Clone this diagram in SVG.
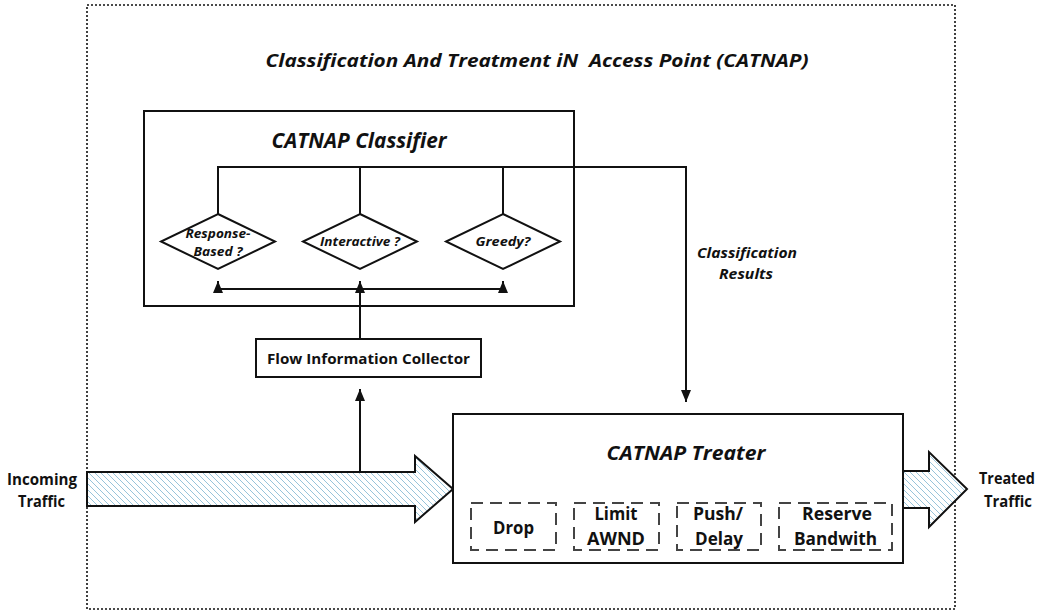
<svg xmlns="http://www.w3.org/2000/svg" width="1042" height="613" viewBox="0 0 1042 613">
<style>
text{font-family:"Open Sans","Liberation Sans",sans-serif;font-weight:bold;fill:#111;text-anchor:middle;dominant-baseline:central}
.it{font-style:italic}
.box{fill:#fff;stroke:#111;stroke-width:2}
.dash{fill:none;stroke:#444;stroke-width:2;stroke-dasharray:12,7}
.ln{fill:none;stroke:#111;stroke-width:2}
.dia{fill:#fff;stroke:#111;stroke-width:2}
.big{fill:url(#hatch);stroke:#111;stroke-width:2;stroke-linejoin:miter}
</style>
<defs>
<pattern id="hatch" patternUnits="userSpaceOnUse" width="6" height="6">
<rect width="6" height="6" fill="#fff"/>
<path d="M0,0 L6,6 M-1,5 L1,7 M5,-1 L7,1" stroke="#8cbdd6" stroke-width="0.9"/>
</pattern>
<marker id="ah" markerUnits="userSpaceOnUse" markerWidth="14" markerHeight="14" refX="12" refY="5" orient="auto">
<path d="M0,0 L12,5 L0,10 Z" fill="#111"/>
</marker>
</defs>
<rect width="1042" height="613" fill="#fff"/>
<g id="outer">
<rect x="87" y="5" width="868" height="604" fill="none" stroke="#111" stroke-width="1.6" stroke-dasharray="2,2"/>
<text class="it" x="537" y="60" font-size="18" textLength="543" lengthAdjust="spacingAndGlyphs" xml:space="preserve">Classification And Treatment iN  Access Point (CATNAP)</text>
</g>
<g id="classifier">
<rect class="box" x="144" y="111" width="430" height="195"/>
<text class="it" x="359" y="140" font-size="21" textLength="175" lengthAdjust="spacingAndGlyphs">CATNAP Classifier</text>
</g>
<g id="incoming-arrow">
<polygon class="big" points="87,472 415,472 415,456 453,489 415,522 415,506 87,506"/>
</g>
<g id="treated-arrow">
<polygon class="big" points="903,471 929,471 929,452 967,489 929,527 929,508 903,508"/>
</g>
<g id="connectors">
<path class="ln" d="M218,214 V167 H686 V402" marker-end="url(#ah)"/>
<path class="ln" d="M360,214 V167"/>
<path class="ln" d="M503,214 V167"/>
<path class="ln" d="M218,289 H503"/>
<path class="ln" d="M218,289 V281" marker-end="url(#ah)"/>
<path class="ln" d="M503,289 V281" marker-end="url(#ah)"/>
<path class="ln" d="M360,339 V281" marker-end="url(#ah)"/>
<path class="ln" d="M360,472 V389" marker-end="url(#ah)"/>
</g>
<g id="d-response">
<polygon class="dia" points="218,214 275,241.5 218,269 161,241.5"/>
<text class="it" x="218" y="233" font-size="12" textLength="65" lengthAdjust="spacingAndGlyphs">Response-</text>
<text class="it" x="218" y="251" font-size="12" textLength="49" lengthAdjust="spacingAndGlyphs">Based ?</text>
</g>
<g id="d-interactive">
<polygon class="dia" points="360,214 417,241.5 360,269 303,241.5"/>
<text class="it" x="360" y="241" font-size="12" textLength="80" lengthAdjust="spacingAndGlyphs">Interactive ?</text>
</g>
<g id="d-greedy">
<polygon class="dia" points="503,214 560,241.5 503,269 446,241.5"/>
<text class="it" x="503" y="241" font-size="12" textLength="55" lengthAdjust="spacingAndGlyphs">Greedy?</text>
</g>
<g id="collector">
<rect class="box" x="256" y="339" width="225" height="38"/>
<text x="368.5" y="358" font-size="14.5" textLength="203" lengthAdjust="spacingAndGlyphs">Flow Information Collector</text>
</g>
<g id="results-label">
<text class="it" x="747" y="252" font-size="14" textLength="100" lengthAdjust="spacingAndGlyphs">Classification</text>
<text class="it" x="746" y="273" font-size="14" textLength="54" lengthAdjust="spacingAndGlyphs">Results</text>
</g>
<g id="treater">
<rect class="box" x="453" y="414" width="450" height="149"/>
<text class="it" x="686" y="452" font-size="20" textLength="159" lengthAdjust="spacingAndGlyphs">CATNAP Treater</text>
</g>
<g id="drop">
<rect class="dash" x="471" y="503" width="85" height="47"/>
<text x="513.5" y="527" font-size="17" textLength="41" lengthAdjust="spacingAndGlyphs">Drop</text>
</g>
<g id="limit">
<rect class="dash" x="574" y="503" width="85" height="47"/>
<text x="616" y="513" font-size="17" textLength="43" lengthAdjust="spacingAndGlyphs">Limit</text>
<text x="616" y="538" font-size="17" textLength="58" lengthAdjust="spacingAndGlyphs">AWND</text>
</g>
<g id="push">
<rect class="dash" x="677" y="503" width="84" height="47"/>
<text x="718" y="513" font-size="17" textLength="50" lengthAdjust="spacingAndGlyphs">Push/</text>
<text x="719" y="538" font-size="17" textLength="48" lengthAdjust="spacingAndGlyphs">Delay</text>
</g>
<g id="reserve">
<rect class="dash" x="779" y="503" width="113" height="47"/>
<text x="837" y="513" font-size="17" textLength="70" lengthAdjust="spacingAndGlyphs">Reserve</text>
<text x="835.5" y="538" font-size="17" textLength="83" lengthAdjust="spacingAndGlyphs">Bandwith</text>
</g>
<g id="incoming-label">
<text x="42" y="478" font-size="16.5" textLength="70" lengthAdjust="spacingAndGlyphs">Incoming</text>
<text x="41.5" y="500" font-size="16.5" textLength="47" lengthAdjust="spacingAndGlyphs">Traffic</text>
</g>
<g id="treated-label">
<text x="1007" y="477" font-size="16.5" textLength="56" lengthAdjust="spacingAndGlyphs">Treated</text>
<text x="1008" y="500" font-size="16.5" textLength="48" lengthAdjust="spacingAndGlyphs">Traffic</text>
</g>
</svg>
